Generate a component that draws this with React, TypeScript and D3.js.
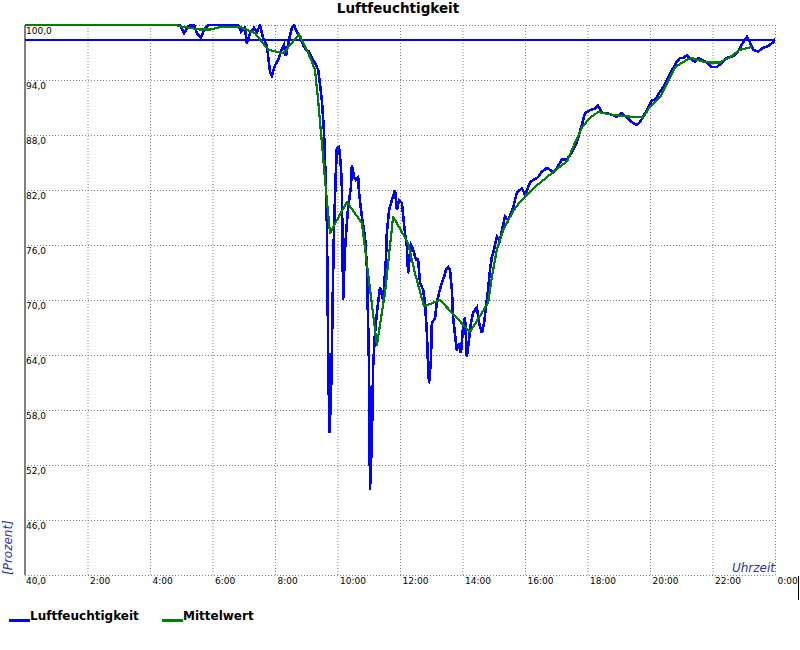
import React from "react";
import * as d3 from "d3";

const title = "Luftfeuchtigkeit";
const yTicks = [40, 46, 52, 58, 64, 70, 76, 82, 88, 94, 100];
const xTicks = [2, 4, 6, 8, 10, 12, 14, 16, 18, 20, 22, 24];
const thresholdValue = 98.4;

// Luftfeuchtigkeit: hour of day, percent
const humHours = [
  0, 4.96, 5.09, 5.22, 5.41, 5.5, 5.63, 5.73, 5.86, 6.82, 6.91, 7.04, 7.1, 7.2, 7.33, 7.42, 7.52, 7.62, 7.74,
  7.84, 7.9, 8.0, 8.1, 8.19, 8.29, 8.35, 8.45, 8.54, 8.61, 8.7, 8.8, 8.9, 8.99, 9.09, 9.18, 9.28, 9.38, 9.44,
  9.5, 9.57, 9.63, 9.66, 9.7, 9.74, 9.79, 9.82, 9.86, 9.89, 9.95, 9.98, 10.05, 10.11, 10.14, 10.18, 10.24,
  10.3, 10.34, 10.43, 10.46, 10.53, 10.59, 10.66, 10.69, 10.78, 10.88, 10.94, 11.01, 11.04, 11.1, 11.14,
  11.2, 11.26, 11.36, 11.46, 11.55, 11.58, 11.65, 11.74, 11.84, 11.9, 11.97, 12.06, 12.16, 12.22, 12.26,
  12.35, 12.42, 12.51, 12.58, 12.64, 12.74, 12.8, 12.86, 12.9, 12.93, 12.99, 13.02, 13.12, 13.18, 13.25,
  13.34, 13.41, 13.47, 13.54, 13.6, 13.66, 13.7, 13.79, 13.82, 13.89, 13.95, 14.02, 14.08, 14.14, 14.18,
  14.27, 14.34, 14.4, 14.46, 14.53, 14.62, 14.69, 14.75, 14.82, 14.88, 14.94, 15.01, 15.1, 15.2, 15.26,
  15.36, 15.46, 15.62, 15.74, 15.9, 16.0, 16.16, 16.26, 16.42, 16.54, 16.7, 16.8, 16.9, 17.02, 17.18,
  17.34, 17.5, 17.66, 17.82, 17.92, 18.08, 18.24, 18.34, 18.46, 18.62, 18.78, 18.94, 19.1, 19.26, 19.42,
  19.58, 19.68, 19.78, 19.9, 20.06, 20.16, 20.26, 20.42, 20.58, 20.74, 20.86, 20.96, 21.06, 21.18, 21.25,
  21.34, 21.44, 21.54, 21.66, 21.82, 21.98, 22.14, 22.3, 22.43, 22.56, 22.72, 22.85, 22.98, 23.1, 23.2,
  23.3, 23.46, 23.62, 23.78, 23.94, 24.0,
];
const humValues = [
  100, 100, 99.1, 99.9, 100, 99.1, 98.6, 99.5, 100, 100, 99.3, 99.7, 98.0, 99.1, 99.7, 99.2, 100, 98.6, 97.8,
  94.9, 94.5, 95.6, 96.2, 97.1, 97.8, 96.6, 98.4, 99.7, 100, 99.2, 98.8, 97.8, 97.3, 97.1, 96.4, 95.9, 95.1, 93.5,
  91.8, 88.2, 82.3, 78.4, 64.9, 55.5, 59.1, 64.5, 72.9, 78.0, 84.2, 86.6, 86.7, 84.5, 82.3, 70.0, 75.5,
  78.4, 80.1, 82.3, 84.7, 83.4, 83.1, 83.4, 81.7, 79.1, 76.9, 73.6, 62.7, 49.3, 54.7, 62.7,
  66.4, 68.6, 71.4, 70.0, 74.4, 77.3, 79.8, 80.9, 82.0, 79.8, 80.9, 80.6, 77.3, 75.8, 72.9,
  76.0, 75.5, 74.4, 74.4, 71.9, 71.1, 69.7, 66.4, 62.7, 60.9, 63.5, 67.5, 68.0, 69.7, 70.8,
  71.9, 72.5, 73.3, 73.6, 73.3, 71.1, 68.1, 65.3, 64.5, 65.3, 64.2, 67.1, 68.1, 63.8, 64.9,
  67.5, 68.6, 68.9, 69.2, 67.5, 66.4, 67.5, 69.2, 71.1, 73.3, 74.7, 75.5, 76.9, 76.5, 77.6,
  79.1, 78.7, 80.1, 81.7, 82.2, 81.5, 82.8, 83.1, 83.4, 84.0, 84.4, 84.2, 83.9, 84.4, 85.3,
  85.3, 86.1, 87.2, 89.1, 90.4, 90.7, 90.9, 91.2, 90.4, 90.4, 90.2, 90.0, 90.4, 89.9, 89.4,
  89.1, 89.4, 90.0, 90.7, 91.8, 91.8, 92.4, 93.2, 94.2, 95.3, 96.0, 96.4, 96.4, 96.7, 96.4,
  96.2, 96.0, 96.4, 96.2, 95.9, 95.4, 95.4, 95.9, 96.4, 96.5, 96.7, 97.3, 98.1, 98.7, 98.1,
  97.3, 97.1, 97.5, 97.7, 98.1, 98.5,
];

// Mittelwert: hour of day, percent
const avgHours = [
  0, 4.8, 5.06, 5.6, 5.92, 6.3, 6.72, 6.88, 7.36, 7.78, 8.26, 8.77, 9.12, 9.28, 9.38, 9.54, 9.63, 9.76,
  10.3, 10.78, 10.94, 11.26, 11.52, 11.78, 12.26, 12.48, 12.77, 13.28, 14.24, 14.82, 14.94, 15.1, 15.3,
  15.62, 15.84, 16.06, 16.38, 16.7, 17.06, 17.34, 17.54, 17.82, 18.08, 18.34, 18.82, 19.36, 19.78, 20.0,
  20.32, 20.58, 20.8, 21.18, 21.34, 21.7, 21.92, 22.24, 22.56, 22.88, 23.26,
];
const avgValues = [
  100, 100, 99.8, 99.5, 99.5, 99.8, 99.8, 99.8, 99.1, 97.3, 96.9, 99.0, 96.5, 95.1, 91.8, 85.6, 82.0, 77.3,
  80.7, 78.4, 74.0, 65.1, 70.8, 79.1, 76.2, 72.9, 69.3, 70.0, 66.5, 69.7, 72.5, 75.5, 77.6,
  79.7, 80.7, 81.5, 82.5, 83.4, 84.4, 85.1, 86.7, 88.8, 89.9, 90.5, 90.2, 90.0, 89.9, 91.1,
  92.1, 93.9, 95.4, 96.2, 96.4, 96.0, 95.9, 95.9, 96.5, 97.3, 97.6,
];

const seriesLegend = [
  { name: "Luftfeuchtigkeit", color: "#0000ff" },
  { name: "Mittelwert", color: "#008000" },
];

const W = 800;
const H = 650;
const left = 25;
const right = 775;
const top = 25;
const bottom = 575;
const font = "DejaVu Sans, Verdana, sans-serif";

function fmtHour(h: number) {
  return `${h % 24}:00`;
}

export default function App() {
  const x = d3.scaleLinear().domain([0, 24]).range([left, right]);
  const y = d3.scaleLinear().domain([40, 100]).range([bottom, top]);

  const line = d3
    .line<[number, number]>()
    .x((d) => x(d[0]))
    .y((d) => y(d[1]));

  const humData: [number, number][] = humHours.map((h, i) => [h, humValues[i]]);
  const avgData: [number, number][] = avgHours.map((h, i) => [h, avgValues[i]]);

  return (
    <div style={{ position: "absolute", left: 0, top: 0 }}>
      <svg width={W} height={H} style={{ display: "block", background: "#fff" }}>
        <defs>
          <clipPath id="plot">
            <rect x={left} y={top - 1} width={right - left} height={bottom - top + 2} />
          </clipPath>
        </defs>
        <text x={398} y={13} textAnchor="middle" fontFamily={font} fontWeight="bold" fontSize={13.5} fill="#000">
          {title}
        </text>

        {/* horizontal grid */}
        {yTicks.map((t) => (
          <line
            key={"gy" + t}
            x1={left}
            x2={right}
            y1={y(t) + 0.5}
            y2={y(t) + 0.5}
            stroke="#808080"
            strokeWidth={1}
            strokeDasharray="1,2"
          />
        ))}
        {/* vertical grid */}
        {xTicks.map((t) => (
          <line
            key={"gx" + t}
            x1={x(t) + 0.5}
            x2={x(t) + 0.5}
            y1={top}
            y2={bottom}
            stroke="#808080"
            strokeWidth={1}
            strokeDasharray="1,2"
          />
        ))}
        {/* left axis */}
        <line x1={left} x2={left} y1={top} y2={bottom} stroke="#808080" strokeWidth={2} />

        <g clipPath="url(#plot)">
          <line
            x1={left}
            x2={right}
            y1={y(thresholdValue)}
            y2={y(thresholdValue)}
            stroke="#0000ff"
            strokeWidth={2}
            shapeRendering="crispEdges"
          />
          <path d={line(humData) || ""} fill="none" stroke="#0000ff" strokeWidth={2.6} strokeLinejoin="miter" shapeRendering="crispEdges" />
          <path d={line(avgData) || ""} fill="none" stroke="#008000" strokeWidth={2.2} strokeLinejoin="round" shapeRendering="crispEdges" />
        </g>

        {/* y tick labels */}
        {yTicks.map((t) => (
          <text key={"ly" + t} x={left + 1} y={y(t) + 9} fontFamily={font} fontSize={9} fill="#000">
            {t.toFixed(1).replace(".", ",")}
          </text>
        ))}
        {/* x tick labels */}
        {xTicks.map((t) => (
          <text key={"lx" + t} x={x(t) + 2.5} y={584} fontFamily={font} fontSize={9} fill="#000">
            {fmtHour(t)}
          </text>
        ))}

        <text x={right} y={572} textAnchor="end" fontFamily={font} fontStyle="italic" fontSize={12} fill="#3030a8">
          Uhrzeit
        </text>
        <text
          transform={`translate(12,${bottom}) rotate(-90)`}
          fontFamily={font}
          fontStyle="italic"
          fontSize={12}
          fill="#3030a8"
        >
          [Prozent]
        </text>

        <line x1={798.5} x2={798.5} y1={576} y2={600} stroke="#000" strokeWidth={1} />

        {/* legend */}
        {seriesLegend.map((s, i) => {
          const lx = i === 0 ? 9 : 162;
          return (
            <g key={s.name}>
              <line x1={lx} x2={lx + 21} y1={620.5} y2={620.5} stroke={s.color} strokeWidth={3} shapeRendering="crispEdges" />
              <text x={lx + 21} y={620} fontFamily={font} fontWeight="bold" fontSize={12} fill="#000">
                {s.name}
              </text>
            </g>
          );
        })}
      </svg>
    </div>
  );
}
